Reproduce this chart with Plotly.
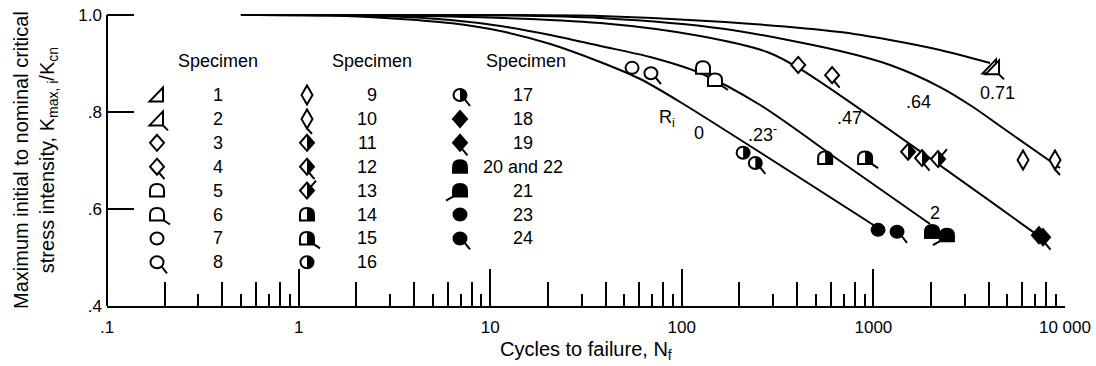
import plotly.graph_objects as go

# ---------------------------------------------------------------------------
# Faired curves: K_max,i / K_cn against cycles to failure, one per ratio R_i
# ---------------------------------------------------------------------------
ratio_labels = ["0", ".23", ".47", ".64", "0.71"]

r000_cycles = [0.5, 1.47, 3.4, 6.2, 11.3, 20.6, 37.5, 60.7, 98, 1058]
r000_kratio = [1.0, 0.999, 0.992, 0.9835, 0.967, 0.9402, 0.9031, 0.868, 0.8206, 0.5608]

r023_cycles = [0.5, 2.67, 6.19, 11.3, 20.6, 37.5, 68.4, 124.7, 256.5, 670, 1976]
r023_kratio = [1.0, 0.998, 0.9897, 0.9773, 0.9588, 0.9361, 0.9134, 0.8804, 0.8144, 0.699, 0.569]

r047_cycles = [0.5, 6.19, 37.5, 124.7, 279, 414.6, 7680]
r047_kratio = [1.0, 0.997, 0.9835, 0.9567, 0.9237, 0.8887, 0.5381]

r064_cycles = [0.5, 11.3, 37.5, 168.4, 670, 1222, 2228, 3311, 4581, 9419]
r064_kratio = [1.0, 0.999, 0.9938, 0.9711, 0.9258, 0.8969, 0.8515, 0.8103, 0.7711, 0.6845]

r071_cycles = [0.5, 11.3, 37.5, 168.4, 670, 1222, 2228, 4063]
r071_kratio = [1.0, 1.0, 0.998, 0.9856, 0.9649, 0.9485, 0.9278, 0.901]

# ---------------------------------------------------------------------------
# Test specimens
# ---------------------------------------------------------------------------
specimen_ids = list(range(1, 25))
specimen_cycles = [4063, 4211, 405, 609, 129, 149, 55, 69, 6040, 8870,
                   1517, 1795, 2175, 560, 905, 209, 242, 7310, 7680, 2024,
                   2421, 2024, 1058, 1329]
specimen_kratio = [0.893, 0.891, 0.897, 0.876, 0.891, 0.866, 0.891, 0.880, 0.701, 0.701,
                   0.718, 0.705, 0.703, 0.705, 0.705, 0.716, 0.695, 0.546, 0.542, 0.553,
                   0.546, 0.553, 0.557, 0.553]

# Legend table columns (label text, glyph of the specimen)
legend_col1_text = ["1", "2", "3", "4", "5", "6", "7", "8"]
legend_col1_ids = [1, 2, 3, 4, 5, 6, 7, 8]
legend_col2_text = ["9", "10", "11", "12", "13", "14", "15", "16"]
legend_col2_ids = [9, 10, 11, 12, 13, 14, 15, 16]
legend_col3_text = ["17", "18", "19", "20 and 22", "21", "23", "24"]
legend_col3_ids = [17, 18, 19, 20, 21, 23, 24]

x_tick_values = [0.1, 1, 10, 100, 1000, 10000]
x_tick_text = [".1", "1", "10", "100", "1000", "10 000"]
y_tick_values = [0.4, 0.6, 0.8, 1.0]
y_tick_text = [".4", ".6", ".8", "1.0"]

# ---------------------------------------------------------------------------
# Page geometry and styling
# ---------------------------------------------------------------------------
W, H = 1096, 366
ML, MR, MT, MB = 107, 31, 10, 60
PW, PH = W - ML - MR, H - MT - MB
Y_TOP = 0.4 + PH / 485.0          # keeps K = 1.0 a few pixels below the frame top

FONT = "Liberation Sans, Arial, sans-serif"
FS_TEXT = 18
FS_TICK = 17
FS_TITLE = 20
INK = "black"


def to_paper(px, py):
    return (px - ML) / PW, (H - MB - py) / PH


# glyph outlines in pixels, y pointing up
def _ellipse(rx, ry):
    kx, ky = 0.5523 * rx, 0.5523 * ry
    return (f"M {rx},0 C {rx},{ky:.2f} {kx:.2f},{ry} 0,{ry} "
            f"C {-kx:.2f},{ry} {-rx},{ky:.2f} {-rx},0 "
            f"C {-rx},{-ky:.2f} {-kx:.2f},{-ry} 0,{-ry} "
            f"C {kx:.2f},{-ry} {rx},{-ky:.2f} {rx},0 Z")


def _ellipse_right(rx, ry):
    kx, ky = 0.5523 * rx, 0.5523 * ry
    return (f"M 0,{ry} C {kx:.2f},{ry} {rx},{ky:.2f} {rx},0 "
            f"C {rx},{-ky:.2f} {kx:.2f},{-ry} 0,{-ry} Z")


OUTLINE = {
    "circ": _ellipse(6.5, 6),
    "dia": "M 0,8 L 7,0 L 0,-8 L -7,0 Z",
    "tall": "M 0,9.5 L 5.5,0 L 0,-9.5 L -5.5,0 Z",
    "dome": "M -7,-6 L 7,-6 L 7,0 C 7,4.5 4,6.5 0,6.5 C -4,6.5 -7,4.5 -7,0 Z",
    "tri": "M -7.5,-6.5 L 6,-6.5 L 6,7.5 Z",
}
RIGHT_HALF = {
    "circ": _ellipse_right(6.5, 6),
    "dia": "M 0,8 L 7,0 L 0,-8 Z",
    "dome": "M 0,-6 L 7,-6 L 7,0 C 7,4.5 4,6.5 0,6.5 Z",
}
TAIL = {
    ("circ", "se"): "M 4.6,-4.2 L 10,-11",
    ("dia", "se"): "M 2,-6 L 7.5,-12.5",
    ("dia", "ne"): "M 3.5,3.5 L 9,10",
    ("tall", "se"): "M 0,-9.5 L 5,-15",
    ("dome", "se"): "M 7,-6 L 13,-10",
    ("dome", "sw"): "M -7,-6 L -14,-10",
    ("tri", "se"): "M 6,-6.5 L 11,-11.5",
}
# specimen -> (outline, fill, tail)
GLYPH = {
    1: ("tri", "open", None), 2: ("tri", "open", "se"),
    3: ("dia", "open", None), 4: ("dia", "open", "se"),
    5: ("dome", "open", None), 6: ("dome", "open", "se"),
    7: ("circ", "open", None), 8: ("circ", "open", "se"),
    9: ("tall", "open", None), 10: ("tall", "open", "se"),
    11: ("dia", "half", None), 12: ("dia", "half", "se"), 13: ("dia", "half", "ne"),
    14: ("dome", "half", None), 15: ("dome", "half", "se"),
    16: ("circ", "half", None), 17: ("circ", "half", "se"),
    18: ("dia", "full", None), 19: ("dia", "full", "se"),
    20: ("dome", "full", None), 21: ("dome", "full", "sw"), 22: ("dome", "full", None),
    23: ("circ", "full", None), 24: ("circ", "full", "se"),
}


def glyph_shapes(sid, xa, ya, xref, yref):
    kind, fill, tail = GLYPH[sid]
    base = dict(type="path", xref=xref, yref=yref, xsizemode="pixel", ysizemode="pixel",
                xanchor=xa, yanchor=ya, layer="above")
    out = [dict(base, path=OUTLINE[kind],
                fillcolor=INK if fill == "full" else "white",
                line=dict(color=INK, width=2))]
    if fill == "half":
        out.append(dict(base, path=RIGHT_HALF[kind], fillcolor=INK, line=dict(width=0)))
    if tail:
        out.append(dict(base, path=TAIL[(kind, tail)], line=dict(color=INK, width=2)))
    return out


def text_at(px, py, s, anchor="center", size=FS_TEXT):
    x, y = to_paper(px, py)
    return dict(x=x, y=y, xref="paper", yref="paper", text=s, showarrow=False,
                xanchor=anchor, yanchor="middle", font=dict(family=FONT, size=size, color=INK))


fig = go.Figure()

curves = [
    (r000_cycles, r000_kratio), (r023_cycles, r023_kratio), (r047_cycles, r047_kratio),
    (r064_cycles, r064_kratio), (r071_cycles, r071_kratio),
]
for (cyc, kr), name in zip(curves, ratio_labels):
    fig.add_trace(go.Scatter(
        x=cyc, y=kr, mode="lines", name=f"R_i = {name}", showlegend=False,
        line=dict(color=INK, width=2, shape="spline", smoothing=0.8),
        hoverinfo="skip",
    ))

# invisible hover points for the specimens; their glyphs are drawn as shapes
fig.add_trace(go.Scatter(
    x=specimen_cycles, y=specimen_kratio, mode="markers", showlegend=False,
    marker=dict(size=10, opacity=0), text=[f"Specimen {s}" for s in specimen_ids],
    hoverinfo="text+x+y", xaxis="x2",
))

shapes = []
for sid, n, k in zip(specimen_ids, specimen_cycles, specimen_kratio):
    shapes += glyph_shapes(sid, n, k, "x", "y")

# left axis line from .4 to 1.0
shapes.append(dict(type="line", xref="paper", yref="y", x0=0, x1=0, y0=0.4, y1=1.0,
                   line=dict(color=INK, width=2), layer="above"))

annotations = []

# legend table
ROW0, ROWSTEP = 95, 23.9
columns = [
    (157, 218, "center", legend_col1_text, legend_col1_ids, 218),
    (307, 379, "right", legend_col2_text, legend_col2_ids, 372),
    (460, 523, "center", legend_col3_text, legend_col3_ids, 526),
]
for sym_x, num_x, num_anchor, texts, ids, head_x in columns:
    annotations.append(text_at(head_x, 61, "Specimen"))
    for i, (t, sid) in enumerate(zip(texts, ids)):
        ry = ROW0 + ROWSTEP * i
        gx, gy = to_paper(sym_x, ry)
        shapes += glyph_shapes(sid, gx, gy, "paper", "paper")
        annotations.append(text_at(num_x, ry, t, anchor=num_anchor))

# curve labels
annotations += [
    text_at(667, 118, "R<sub>i</sub>"),
    text_at(699, 133, "0"),
    text_at(762, 133, ".23<sup>-</sup>"),
    text_at(849, 118, ".47"),
    text_at(918, 102, ".64"),
    text_at(997, 93, "0.71"),
    text_at(935, 213, "2"),
]

# axis titles
annotations.append(dict(
    x=to_paper(35, 0)[0], y=to_paper(0, 160)[1], xref="paper", yref="paper",
    text="Maximum initial to nominal critical<br>stress intensity, K<sub>max, i</sub>/K<sub>cn</sub>",
    textangle=-90, showarrow=False, xanchor="center", yanchor="middle",
    font=dict(family=FONT, size=FS_TITLE, color=INK)))
annotations.append(text_at(586, 350, "Cycles to failure, N<sub>f</sub>", size=FS_TITLE))

minor_long = [m * 10 ** e for e in range(-1, 4) for m in (2, 4, 6, 8)]
minor_short = [m * 10 ** e for e in range(-1, 4) for m in (3, 5, 7, 9)]
X_RANGE = [-1.0001, 4.0001]

fig.update_layout(
    template="none",
    width=W, height=H, margin=dict(l=ML, r=MR, t=MT, b=MB, autoexpand=False),
    paper_bgcolor="white", plot_bgcolor="white",
    font=dict(family=FONT, size=FS_TEXT, color=INK),
    xaxis=dict(
        type="log", range=X_RANGE, showgrid=False, zeroline=False,
        showline=True, linecolor=INK, linewidth=2, automargin=False,
        ticks="inside", ticklen=37, tickwidth=2, tickcolor=INK,
        tickvals=x_tick_values, ticktext=x_tick_text,
        tickfont=dict(family=FONT, size=FS_TICK, color=INK), ticklabelstandoff=5,
        minor=dict(tickvals=minor_short, ticks="inside", ticklen=12, tickwidth=2,
                   tickcolor=INK, showgrid=False),
    ),
    xaxis2=dict(
        type="log", range=X_RANGE, overlaying="x", anchor="y", side="bottom",
        showgrid=False, zeroline=False, showline=False, showticklabels=False,
        ticks="inside", ticklen=24, tickwidth=2, tickcolor=INK, tickvals=minor_long,
    ),
    yaxis=dict(
        range=[0.4, Y_TOP], showgrid=False, zeroline=False, showline=False,
        automargin=False,
        ticks="inside", ticklen=27, tickwidth=2, tickcolor=INK,
        tickvals=y_tick_values, ticktext=y_tick_text,
        tickfont=dict(family=FONT, size=FS_TICK, color=INK), ticklabelstandoff=4,
    ),
    shapes=shapes,
    annotations=annotations,
    showlegend=False,
)

fig.write_html("out.html")
